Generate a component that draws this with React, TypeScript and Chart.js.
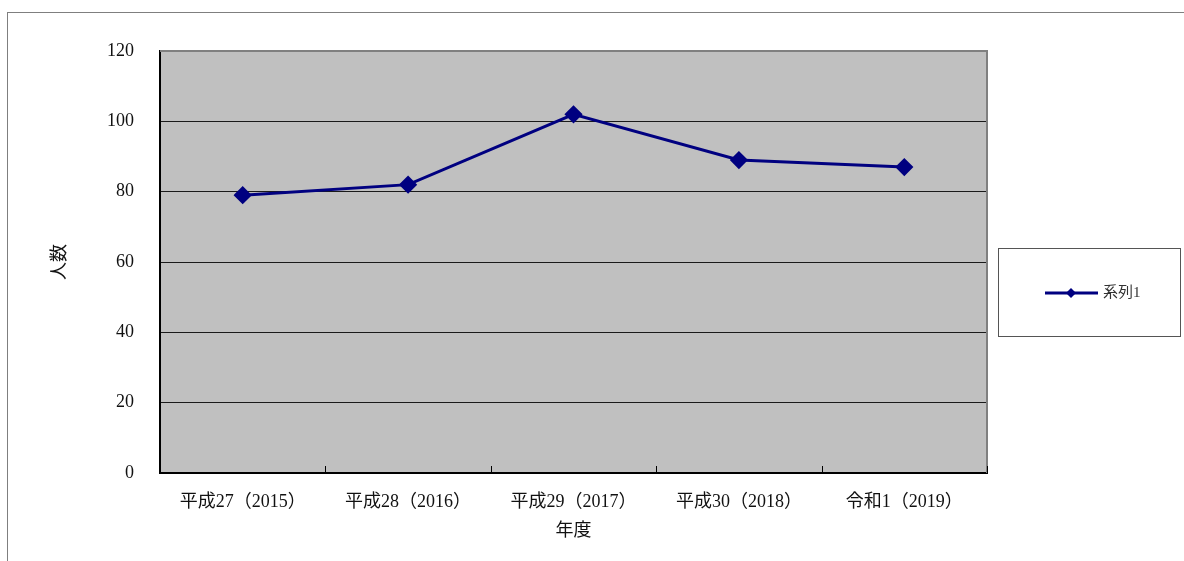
import React, { useEffect, useRef } from "react";
import { Chart, registerables } from "chart.js";

Chart.register(...registerables);

const categories = ["平成27（2015）", "平成28（2016）", "平成29（2017）", "平成30（2018）", "令和1（2019）"];
const seriesName = "系列1";
const seriesValues = [79, 82, 102, 89, 87];
const yTitle = "人数";
const xTitle = "年度";

const FONT = '"Liberation Serif", "Noto Sans CJK JP", serif';
const NAVY = "#000080";

const decorPlugin = {
  id: "decor",
  beforeDraw(chart: any) {
    const { ctx, chartArea: a } = chart;
    ctx.save();
    ctx.fillStyle = "#ffffff";
    ctx.fillRect(0, 0, chart.width, chart.height);
    ctx.strokeStyle = "#7f7f7f";
    ctx.lineWidth = 1;
    ctx.strokeRect(7.5, 12.5, chart.width + 20, chart.height + 20);
    ctx.fillStyle = "#c0c0c0";
    ctx.fillRect(a.left, a.top, a.right - a.left, a.bottom - a.top);
    ctx.restore();
  },
  beforeDatasetsDraw(chart: any) {
    const { ctx, chartArea: a } = chart;
    const xs = chart.scales.x;
    ctx.save();
    ctx.strokeStyle = "#808080";
    ctx.lineWidth = 2;
    ctx.beginPath();
    ctx.moveTo(a.left, a.top);
    ctx.lineTo(a.right, a.top);
    ctx.lineTo(a.right, a.bottom);
    ctx.stroke();
    ctx.strokeStyle = "#000000";
    ctx.lineWidth = 1;
    const n = chart.data.labels.length;
    for (let i = 0; i < n; i++) {
      const half = (xs.getPixelForValue(1) - xs.getPixelForValue(0)) / 2;
      const x = Math.round(xs.getPixelForValue(i) + half) + 0.5;
      ctx.beginPath();
      ctx.moveTo(x, a.bottom);
      ctx.lineTo(x, a.bottom - 7);
      ctx.stroke();
    }
    ctx.restore();
  },
  afterDraw(chart: any) {
    const { ctx } = chart;
    const ds = chart.data.datasets[0];
    ctx.save();
    ctx.fillStyle = "#ffffff";
    ctx.fillRect(998, 248, 183, 88);
    ctx.strokeStyle = "#555555";
    ctx.lineWidth = 1;
    ctx.strokeRect(998.5, 248.5, 182, 88);
    const y = 293;
    ctx.strokeStyle = ds.borderColor;
    ctx.lineWidth = 3;
    ctx.beginPath();
    ctx.moveTo(1045, y);
    ctx.lineTo(1098, y);
    ctx.stroke();
    ctx.fillStyle = ds.backgroundColor;
    ctx.beginPath();
    const r = 5;
    ctx.moveTo(1071, y - r);
    ctx.lineTo(1071 + r, y);
    ctx.lineTo(1071, y + r);
    ctx.lineTo(1071 - r, y);
    ctx.closePath();
    ctx.fill();
    ctx.fillStyle = "#333333";
    ctx.font = `15px ${FONT}`;
    ctx.textBaseline = "middle";
    ctx.textAlign = "left";
    ctx.fillText(ds.label, 1103, y);
    ctx.restore();
  },
};

export default function App() {
  const ref = useRef<HTMLCanvasElement>(null);
  useEffect(() => {
    if (!ref.current) return;
    const chart = new Chart(ref.current, {
      type: "line",
      data: {
        labels: categories,
        datasets: [
          {
            label: seriesName,
            data: seriesValues,
            borderColor: NAVY,
            backgroundColor: NAVY,
            borderWidth: 3,
            pointStyle: "rectRot",
            pointRadius: 7,
            pointBackgroundColor: NAVY,
            pointBorderColor: NAVY,
            tension: 0,
          },
        ],
      },
      options: {
        responsive: false,
        animation: false,
        devicePixelRatio: 1,
        layout: { padding: { left: 40, top: 51, right: 197, bottom: 0 } },
        plugins: {
          legend: { display: false },
          tooltip: { enabled: false },
        },
        scales: {
          x: {
            offset: true,
            grid: { display: false },
            border: { display: true, color: "#000000", width: 2 },
            ticks: { color: "#111", font: { family: FONT, size: 18 }, padding: 10, maxRotation: 0 },
            title: { display: true, text: xTitle, color: "#111", font: { family: FONT, size: 18 }, padding: { top: 0, bottom: 19 } },
            afterFit: (s: any) => { s.height = 88; },
          },
          y: {
            min: 0,
            max: 120,
            ticks: { stepSize: 20, color: "#111", font: { family: FONT, size: 18 }, padding: 26 },
            grid: {
              color: (c: any) => (c.tick && c.tick.value === 120 ? "rgba(0,0,0,0)" : "#1a1a1a"),
              lineWidth: 1,
              drawTicks: false,
            },
            border: { display: true, color: "#000000", width: 2 },
            title: { display: true, text: yTitle, color: "#111", font: { family: FONT, size: 18 }, padding: { top: 9, bottom: 0 } },
            afterFit: (s: any) => { s.width = 120; },
          },
        },
      },
      plugins: [decorPlugin],
    });
    return () => chart.destroy();
  }, []);
  return (
    <div style={{ position: "absolute", left: 0, top: 0, width: 1184, height: 561 }}>
      <canvas ref={ref} width={1184} height={561} style={{ width: 1184, height: 561, display: "block" }} />
    </div>
  );
}
